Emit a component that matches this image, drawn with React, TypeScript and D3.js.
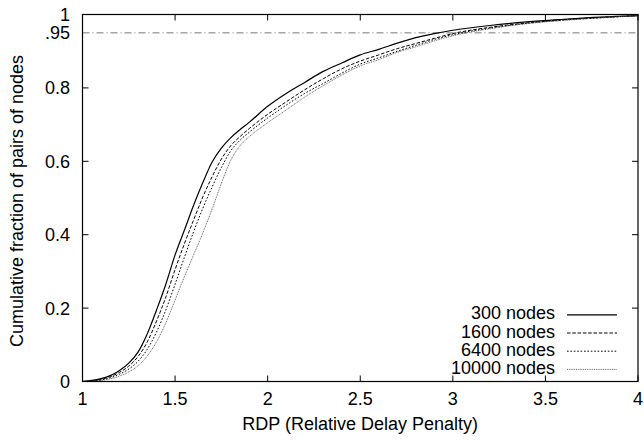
import React from "react";
import * as d3 from "d3";

const xGrid = [1.0, 1.05, 1.1, 1.15, 1.2, 1.25, 1.3, 1.35, 1.4, 1.45, 1.5, 1.55, 1.6, 1.65, 1.7, 1.75, 1.8, 1.85, 1.9, 2.0, 2.1, 2.2, 2.3, 2.4, 2.5, 2.6, 2.7, 2.8, 2.9, 3.0, 3.2, 3.4, 3.6, 3.8, 4.0];

const nodes300 = [0, 0.003, 0.008, 0.016, 0.03, 0.05, 0.08, 0.13, 0.195, 0.265, 0.345, 0.412, 0.48, 0.542, 0.598, 0.636, 0.664, 0.686, 0.706, 0.75, 0.785, 0.815, 0.845, 0.868, 0.89, 0.905, 0.922, 0.937, 0.948, 0.957, 0.97, 0.98, 0.987, 0.993, 0.997];
const nodes1600 = [0, 0.002, 0.006, 0.013, 0.025, 0.042, 0.068, 0.108, 0.165, 0.23, 0.305, 0.375, 0.44, 0.503, 0.558, 0.606, 0.642, 0.667, 0.689, 0.728, 0.762, 0.795, 0.825, 0.852, 0.873, 0.89, 0.907, 0.921, 0.935, 0.948, 0.965, 0.977, 0.986, 0.992, 0.997];
const nodes6400 = [0, 0.001, 0.004, 0.01, 0.02, 0.034, 0.055, 0.088, 0.135, 0.195, 0.265, 0.338, 0.408, 0.472, 0.53, 0.583, 0.628, 0.657, 0.679, 0.718, 0.753, 0.785, 0.812, 0.84, 0.865, 0.882, 0.9, 0.916, 0.932, 0.945, 0.963, 0.976, 0.985, 0.991, 0.997];
const nodes10000 = [0, 0.001, 0.003, 0.007, 0.015, 0.026, 0.043, 0.07, 0.108, 0.16, 0.222, 0.285, 0.345, 0.405, 0.47, 0.54, 0.602, 0.642, 0.667, 0.705, 0.74, 0.775, 0.806, 0.835, 0.86, 0.877, 0.897, 0.912, 0.928, 0.942, 0.961, 0.975, 0.984, 0.991, 0.997];

const seriesNames = ["300 nodes", "1600 nodes", "6400 nodes", "10000 nodes"];
const seriesValues = [nodes300, nodes1600, nodes6400, nodes10000];

const xTicks = [1, 1.5, 2, 2.5, 3, 3.5, 4];
const xTickLabels = ["1", "1.5", "2", "2.5", "3", "3.5", "4"];
const yTicks = [0, 0.2, 0.4, 0.6, 0.8, 1];
const yTickLabels = ["0", "0.2", "0.4", "0.6", "0.8", "1"];
const refLevel = 0.95;
const refLabel = ".95";

const styles = [
  { stroke: "#000", dash: "none", width: 1.2 },
  { stroke: "#000", dash: "3.5,1.8", width: 1 },
  { stroke: "#000", dash: "1.6,1.8", width: 1 },
  { stroke: "#555", dash: "1,0.8", width: 0.9 },
];

export default function App() {
  const W = 644, H = 440;
  const left = 82.5, right = 638, top = 14.5, bottom = 381.5;
  const x = d3.scaleLinear().domain([1, 4]).range([left, right]);
  const y = d3.scaleLinear().domain([0, 1]).range([bottom, top]);
  const line = d3
    .line<number>()
    .x((_, i) => x(xGrid[i]))
    .y((d) => y(d))
    .curve(d3.curveMonotoneX);
  const font = "'Liberation Sans', Arial, Helvetica, sans-serif";
  const fs = 18;
  const tl = 6;
  return (
    <svg width={W} height={H} style={{ position: "absolute", left: 0, top: 0 }} fontFamily={font}>
      <rect width={W} height={H} fill="#fff" />
      <defs>
        <clipPath id="plot">
          <rect x={left} y={top} width={right - left} height={bottom - top} />
        </clipPath>
      </defs>
      <line x1={left} x2={right} y1={y(refLevel)} y2={y(refLevel)} stroke="#777" strokeWidth={1} strokeDasharray="7,3,1,3" />
      <g clipPath="url(#plot)">
        {seriesValues.map((vals, i) => (
          <path key={i} d={line(vals) || ""} fill="none" stroke={styles[i].stroke} strokeWidth={styles[i].width} strokeDasharray={styles[i].dash} />
        ))}
      </g>
      {xTicks.map((t, i) => (
        <g key={"xt" + i}>
          <line x1={x(t)} x2={x(t)} y1={bottom} y2={bottom - tl} stroke="#000" />
          <line x1={x(t)} x2={x(t)} y1={top} y2={top + tl} stroke="#000" />
          <text x={x(t)} y={405} fontSize={fs} textAnchor="middle" fill="#000">{xTickLabels[i]}</text>
        </g>
      ))}
      {yTicks.map((t, i) => (
        <g key={"yt" + i}>
          <line x1={left} x2={left + tl} y1={y(t)} y2={y(t)} stroke="#000" />
          <line x1={right} x2={right - tl} y1={y(t)} y2={y(t)} stroke="#000" />
          <text x={70} y={y(t) + 6.5} fontSize={fs} textAnchor="end" fill="#000">{yTickLabels[i]}</text>
        </g>
      ))}
      <text x={70} y={y(refLevel) + 6.5} fontSize={fs} textAnchor="end" fill="#000">{refLabel}</text>
      <rect x={left} y={top} width={right - left} height={bottom - top} fill="none" stroke="#000" strokeWidth={1.2} />
      <text x={(left + right) / 2} y={430} fontSize={fs} textAnchor="middle" fill="#000">RDP (Relative Delay Penalty)</text>
      <text transform={`translate(23, 201) rotate(-90)`} fontSize={fs} textAnchor="middle" fill="#000">Cumulative fraction of pairs of nodes</text>
      {seriesNames.map((n, i) => {
        const ly = 319.3 + i * 18.2;
        return (
          <g key={"lg" + i}>
            <text x={555} y={ly} fontSize={fs} textAnchor="end" fill="#000">{n}</text>
            <line x1={567} x2={617} y1={ly - 4.5} y2={ly - 4.5} stroke={styles[i].stroke} strokeWidth={styles[i].width} strokeDasharray={styles[i].dash} />
          </g>
        );
      })}
    </svg>
  );
}
